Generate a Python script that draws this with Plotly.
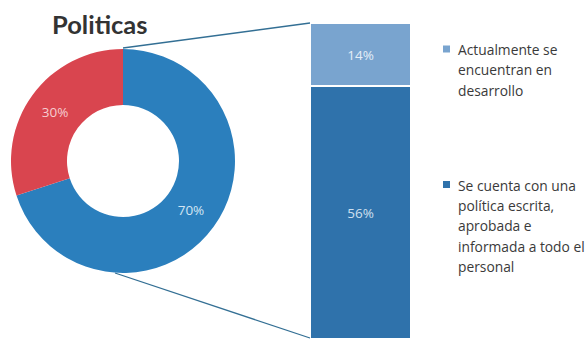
import plotly.graph_objects as go

# Donut: share of organisations with policies
pie_labels = ["Sí", "No"]
pie_values = [70, 30]
pie_text = ["70%", "30%"]

# Breakdown bar of the 70% slice
bar_names = [
    "Se cuenta con una<br>política escrita,<br>aprobada e<br>informada a todo el<br>personal",
    "Actualmente se<br>encuentran en<br>desarrollo",
]
bar_values = [56, 14]
bar_text = ["56%", "14%"]

W, H = 585, 341

PIE_BLUE = "#2b7fbd"
PIE_RED = "#d9454f"
BAR_DARK = "#2f72ab"
BAR_LIGHT = "#79a4cf"
LINE_COL = "#336f94"


def px(x):
    return x / W


def py(y):
    return 1 - y / H


# pie geometry in pixels
cx, cy, r = 123, 161, 112
# bar geometry in pixels
bx0, bx1, by0, by1 = 310, 411, 23, 339

fig = go.Figure()

fig.add_trace(go.Pie(
    labels=pie_labels,
    values=pie_values,
    text=pie_text,
    textinfo="text",
    textposition="inside",
    insidetextorientation="horizontal",
    textfont=dict(family="Open Sans", size=13.5, color=["#d3e5f3", "#f6cdd1"]),
    hole=0.5,
    sort=False,
    direction="clockwise",
    rotation=0,
    marker=dict(colors=[PIE_BLUE, PIE_RED], line=dict(width=0)),
    domain=dict(x=[px(cx - r), px(cx + r)], y=[py(cy + r), py(cy - r)]),
    showlegend=False,
    hoverinfo="skip",
))

bar_colors = [BAR_DARK, BAR_LIGHT]
bar_font = ["#cfe0ef", "#e4eef7"]
for name, val, txt, col, fc in zip(bar_names, bar_values, bar_text, bar_colors, bar_font):
    fig.add_trace(go.Bar(
        x=[0], y=[val], width=1, name=name,
        text=[txt], textposition="inside", insidetextanchor="middle",
        textfont=dict(family="Open Sans", size=13.5, color=fc),
        marker=dict(color=col, line=dict(color="white", width=1.5)),
        showlegend=False, hoverinfo="skip",
    ))

fig.update_layout(
    width=W, height=H,
    margin=dict(l=0, r=0, t=0, b=0),
    paper_bgcolor="white", plot_bgcolor="rgba(0,0,0,0)",
    barmode="stack",
    xaxis=dict(domain=[px(bx0), px(bx1)], range=[-0.5, 0.5], visible=False, fixedrange=True),
    yaxis=dict(domain=[py(by1), py(by0)], range=[0, sum(bar_values)], visible=False, fixedrange=True),
)

# connector lines from the donut to the bar
fig.add_shape(type="line", xref="paper", yref="paper",
              x0=px(cx), y0=py(cy - r - 1), x1=px(bx0), y1=py(by0),
              line=dict(color=LINE_COL, width=1.3))
fig.add_shape(type="line", xref="paper", yref="paper",
              x0=px(cx - 8), y0=py(cy + r), x1=px(bx0), y1=py(by1 - 1),
              line=dict(color=LINE_COL, width=1.3))

# title
fig.add_annotation(text="<b>Politicas</b>", xref="paper", yref="paper",
                   x=px(99.5), y=py(24), showarrow=False,
                   font=dict(family="Lato", size=25.5, color="#333333"),
                   xanchor="center", yanchor="middle")

# legend drawn as annotations (marker square + one annotation per text line)
legend_items = [(bar_names[1], BAR_LIGHT, 49.5), (bar_names[0], BAR_DARK, 185)]
LINE_STEP = 20.4
for name, col, yc in legend_items:
    fig.add_shape(type="rect", xref="paper", yref="paper",
                  x0=px(443), x1=px(450), y0=py(yc + 3), y1=py(yc - 4),
                  fillcolor=col, line=dict(width=0))
    for i, line in enumerate(name.split("<br>")):
        fig.add_annotation(text=line, xref="paper", yref="paper",
                           x=px(455.5), y=py(yc + i * LINE_STEP), showarrow=False,
                           xanchor="left", yanchor="middle", align="left",
                           font=dict(family="Open Sans", size=13.8, color="#3a3a3a"))

fig.write_html("out.html")
